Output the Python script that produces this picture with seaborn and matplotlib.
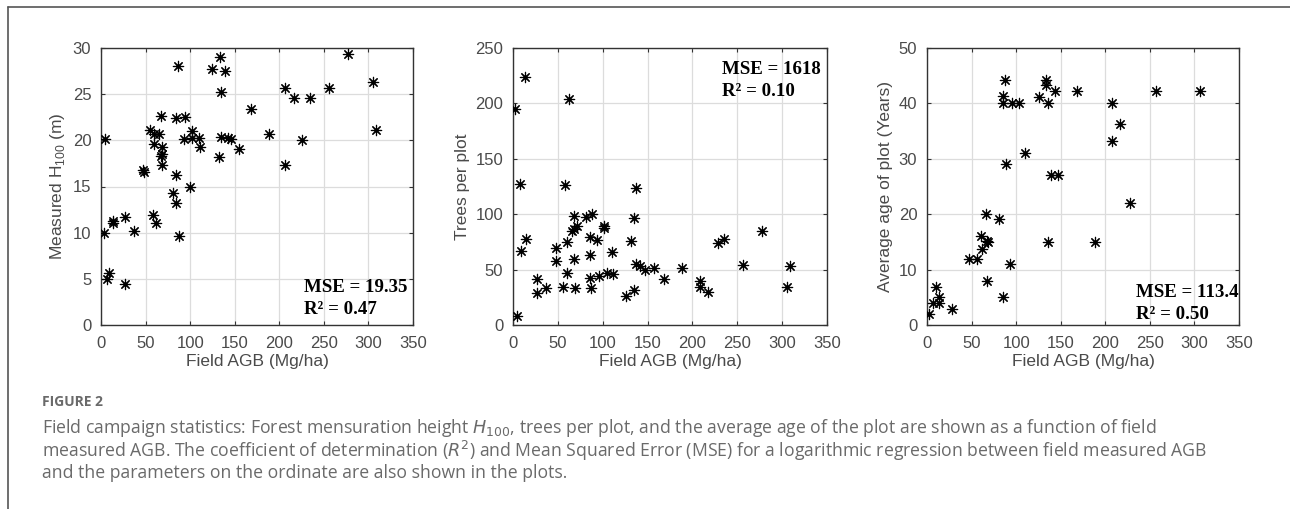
import matplotlib
matplotlib.use("Agg")
import matplotlib.pyplot as plt
from matplotlib.lines import Line2D
import seaborn as sns
import pandas as pd

# ---------------- data ----------------
agb_h100 = [4, 3, 9, 6.5, 27, 13, 14, 27, 36.6, 47.5, 48, 55, 59, 60, 65, 58, 62, 67.7, 68, 68,
            67, 68, 84.5, 94, 86, 84.5, 81, 84.5, 88, 93, 100, 102, 102.5, 110, 111, 125, 134, 139,
            135, 132, 135, 143, 145.5, 155, 168, 188.4, 206.4, 206.4, 216, 234, 226, 256, 276.7,
            305.5, 308]
h100 = [20.1, 10.0, 5.6, 4.95, 4.4, 11.1, 11.3, 11.7, 10.2, 16.8, 16.6, 21.1, 19.6, 20.65, 20.65,
        11.9, 11.1, 22.6, 19.3, 18.5, 18.3, 17.3, 22.4, 22.5, 28.0, 16.2, 14.25, 13.2, 9.6, 20.1,
        15.0, 21.05, 20.3, 20.3, 19.3, 27.7, 29.0, 27.5, 25.2, 18.2, 20.4, 20.3, 20.1, 19.1, 23.4,
        20.65, 25.7, 17.3, 24.6, 24.6, 20.0, 25.7, 29.4, 26.35, 21.1]

agb_trees = [13.8, 2.6, 62.3, 7.5, 58, 137, 135, 68, 81.7, 88.4, 101.5, 101.5, 71, 68, 66, 59.7,
             85.4, 93.3, 132, 14.2, 9.3, 47.8, 110, 47.8, 68, 85.4, 136.6, 142, 147, 157, 168.7,
             60.4, 26.9, 85.8, 96.3, 104.5, 112, 27.2, 37.3, 55.6, 69, 86.6, 126.5, 135, 4.5, 208,
             208, 217.4, 228, 235, 256, 277.6, 308.4, 305.5, 188.4]
trees = [223.5, 195, 204, 127, 126, 124, 96.3, 98.7, 97.8, 100.2, 89.6, 87.2, 89.6, 86.6, 85.1,
         75.2, 79.1, 76.7, 76.1, 77.6, 67.1, 69.2, 65.6, 57.8, 59.3, 63.2, 55, 53.3, 49.6, 51.1,
         41.2, 46.6, 41.2, 42.7, 44.5, 46.6, 45.7, 29.2, 33.1, 34.6, 33.1, 33.1, 26.2, 31.6, 8.1,
         40, 34.6, 30, 73.6, 77.8, 54.1, 84.7, 53.2, 34.6, 51.1]

agb_age = [2.4, 9.7, 7, 14, 14, 28, 47, 56, 61, 62, 67, 68.6, 66, 81, 67.5, 85.5, 93.5, 87, 85.5,
           85.5, 95, 103, 88.3, 110, 125.5, 133, 134, 135.8, 144, 139, 147, 135.5, 168, 188, 207,
           207, 217, 227.4, 257.3, 306]
age = [2.0, 6.9, 4.0, 3.9, 5.0, 2.8, 11.9, 11.9, 16.0, 13.8, 15.1, 14.9, 20.0, 19.1, 8.0, 5.0,
       11.0, 44.3, 41.3, 40.1, 40.1, 40.1, 29.0, 31.0, 41.2, 44.3, 43.3, 40.1, 42.2, 27.0, 27.0,
       15.0, 42.2, 15.0, 40.1, 33.2, 36.2, 22.1, 42.2, 42.2]

x_ticks = [0, 50, 100, 150, 200, 250, 300, 350]
y_limits = [(0, 30), (0, 250), (0, 50)]
y_ticks = [[0, 5, 10, 15, 20, 25, 30], [0, 50, 100, 150, 200, 250], [0, 10, 20, 30, 40, 50]]
y_labels = ["Measured H$_{\\mathregular{100}}$ (m)", "Trees per plot", "Average age of plot (Years)"]
x_label = "Field AGB (Mg/ha)"
mse_text = ["MSE = 19.35", "MSE = 1618", "MSE = 113.4"]
r2_text = ["R\u00b2 = 0.47", "R\u00b2 = 0.10", "R\u00b2 = 0.50"]

caption_title = "FIGURE 2"
caption_lines = [
    "Field campaign statistics: Forest mensuration height $H_{100}$, trees per plot, and the average age of the plot are shown as a function of field",
    "measured AGB. The coefficient of determination ($R^2$) and Mean Squared Error (MSE) for a logarithmic regression between field measured AGB",
    "and the parameters on the ordinate are also shown in the plots.",
]

# ---------------- figure ----------------
sns.set_theme(style="white")
plt.rcParams["font.family"] = ["Liberation Sans", "DejaVu Sans"]

fig = plt.figure(figsize=(12.9, 5.09), dpi=100)
W, H = 1290, 509

panels_px = [(101, 413), (513, 827), (927, 1239)]
ax_top, ax_bot = 48, 325
text_pos = [  # (x_frac, mse_y, r2_y)
    (0.651, 0.118, 0.040),
    (0.666, 0.905, 0.825),
    (0.670, 0.100, 0.022),
]
datasets = [(agb_h100, h100), (agb_trees, trees), (agb_age, age)]

for i, ((l, r), (xs, ys)) in enumerate(zip(panels_px, datasets)):
    ax = fig.add_axes([l / W, (H - ax_bot) / H, (r - l) / W, (ax_bot - ax_top) / H])
    df = pd.DataFrame({"x": xs, "y": ys})
    sns.scatterplot(data=df, x="x", y="y", ax=ax, marker=(8, 2, 0), s=55,
                    color="black", linewidth=0.85, zorder=3, legend=False)
    ax.set_xlim(0, 350)
    ax.set_ylim(*y_limits[i])
    ax.set_xticks(x_ticks)
    ax.set_yticks(y_ticks[i])
    ax.grid(True, color="#dcdcdc", linewidth=0.9, zorder=0)
    ax.set_axisbelow(True)
    for sp in ax.spines.values():
        sp.set_color("#333333")
        sp.set_linewidth(1.0)
    ax.tick_params(direction="in", length=3, width=0.8, color="#333333",
                   labelsize=12, labelcolor="#4a4a4a",
                   top=True, right=True, bottom=True, left=True)
    ax.tick_params(axis="x", pad=8)
    ax.tick_params(axis="y", pad=7)
    ax.set_xlabel(x_label, fontsize=12.5, color="#4a4a4a", labelpad=2)
    ax.set_ylabel(y_labels[i], fontsize=12.5, color="#4a4a4a", labelpad=4)
    xf, my, ry = text_pos[i]
    ax.text(xf, my, mse_text[i], transform=ax.transAxes, ha="left", va="baseline",
            fontsize=13.6, fontweight="bold", family="Liberation Serif", color="black", zorder=4)
    ax.text(xf, ry, r2_text[i], transform=ax.transAxes, ha="left", va="baseline",
            fontsize=13.6, fontweight="bold", family="Liberation Serif", color="black", zorder=4)

# frame lines
fig.add_artist(Line2D([8 / W, 1.0], [1 - 7 / H, 1 - 7 / H], color="#555555", linewidth=1.2,
                      transform=fig.transFigure))
fig.add_artist(Line2D([8 / W, 8 / W], [1 - 7 / H, 0.0], color="#555555", linewidth=1.2,
                      transform=fig.transFigure))

# caption
fig.text(42 / W, 1 - 402 / H, caption_title, ha="left", va="center", fontsize=10,
         fontweight="bold", color="#6a6a6a", family="Open Sans")
for k, (line, yc) in enumerate(zip(caption_lines, [428, 451, 473])):
    fig.text(42 / W, 1 - yc / H, line, ha="left", va="center", fontsize=12.7,
             color="#6a6a6a", family="Open Sans")

fig.savefig("out.png", dpi=100, facecolor="white")
